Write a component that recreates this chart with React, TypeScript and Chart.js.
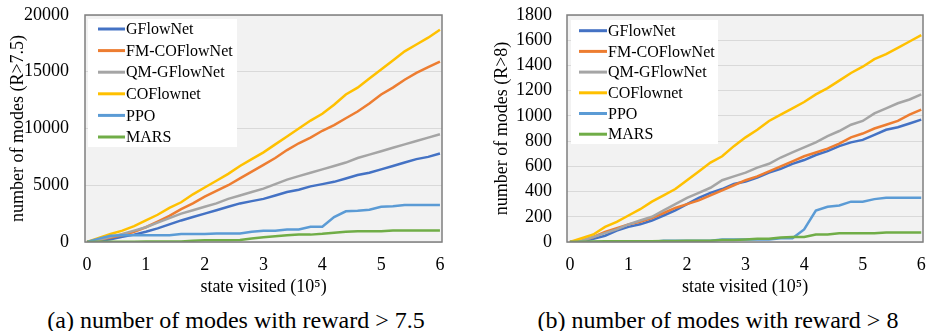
import React, { useEffect, useRef } from 'react';
import { Chart, registerables } from 'chart.js';
Chart.register(...registerables);

const X_VALUES = [0, 0.2, 0.4, 0.6, 0.8, 1.0, 1.2, 1.4, 1.6, 1.8, 2.0, 2.2, 2.4, 2.6, 2.8, 3.0, 3.2, 3.4, 3.6, 3.8, 4.0, 4.2, 4.4, 4.6, 4.8, 5.0, 5.2, 5.4, 5.6, 5.8, 6.0];
const X_TICKS = [0, 1, 2, 3, 4, 5, 6];

const SERIES_NAMES = ['GFlowNet', 'FM-COFlowNet', 'QM-GFlowNet', 'COFlownet', 'PPO', 'MARS'];
const SERIES_COLORS = ['#4472C4', '#ED7D31', '#A5A5A5', '#FFC000', '#5B9BD5', '#70AD47'];

// (a) reward > 7.5
const A_GFLOWNET = [0, 100, 250, 450, 650, 900, 1200, 1550, 1900, 2200, 2500, 2800, 3100, 3400, 3600, 3800, 4100, 4400, 4600, 4900, 5100, 5300, 5600, 5900, 6100, 6400, 6700, 7000, 7300, 7500, 7800];
const A_FM_COFLOWNET = [0, 200, 400, 600, 900, 1300, 1800, 2300, 2900, 3400, 4000, 4500, 5000, 5600, 6200, 6800, 7400, 8100, 8700, 9200, 9800, 10300, 10900, 11500, 12200, 13000, 13600, 14300, 14900, 15400, 15900];
const A_QM_GFLOWNET = [0, 200, 450, 700, 1000, 1300, 1700, 2100, 2500, 2800, 3100, 3400, 3800, 4100, 4400, 4700, 5100, 5500, 5800, 6100, 6400, 6700, 7000, 7400, 7700, 8000, 8300, 8600, 8900, 9200, 9500];
const A_COFLOWNET = [0, 350, 700, 1000, 1400, 1900, 2400, 3000, 3500, 4200, 4800, 5400, 6000, 6700, 7300, 7900, 8600, 9300, 10000, 10700, 11300, 12100, 13000, 13600, 14400, 15200, 16000, 16800, 17400, 18000, 18700];
const A_PPO = [0, 300, 550, 600, 600, 600, 600, 600, 700, 700, 700, 750, 750, 750, 900, 1000, 1000, 1100, 1100, 1350, 1350, 2200, 2700, 2750, 2850, 3100, 3150, 3250, 3250, 3250, 3250];
const A_MARS = [0, 20, 30, 30, 30, 40, 40, 40, 50, 120, 150, 150, 150, 170, 300, 420, 500, 600, 650, 650, 720, 820, 900, 950, 950, 950, 1020, 1020, 1020, 1020, 1020];
const A_Y_TICKS = [0, 5000, 10000, 15000, 20000];

// (b) reward > 8
const B_GFLOWNET = [0, 5, 25, 50, 90, 120, 140, 170, 210, 250, 300, 350, 390, 420, 460, 480, 510, 550, 580, 620, 650, 690, 720, 760, 790, 810, 850, 890, 910, 940, 970];
const B_FM_COFLOWNET = [0, 10, 40, 80, 110, 140, 160, 190, 230, 270, 300, 330, 370, 410, 450, 490, 520, 560, 600, 640, 680, 710, 740, 780, 830, 860, 900, 930, 960, 1010, 1050];
const B_QM_GFLOWNET = [0, 10, 40, 70, 100, 140, 170, 200, 250, 300, 350, 390, 430, 490, 520, 550, 590, 620, 670, 710, 750, 790, 840, 880, 930, 960, 1020, 1060, 1100, 1130, 1170];
const B_COFLOWNET = [0, 30, 60, 120, 160, 210, 260, 320, 370, 420, 490, 560, 630, 680, 760, 830, 890, 960, 1010, 1060, 1110, 1170, 1220, 1280, 1340, 1390, 1450, 1490, 1540, 1590, 1640];
const B_PPO = [0, 0, 0, 0, 0, 0, 0, 0, 10, 10, 10, 10, 10, 20, 20, 20, 20, 20, 30, 30, 100, 250, 280, 290, 320, 320, 340, 350, 350, 350, 350];
const B_MARS = [0, 2, 4, 5, 5, 5, 5, 5, 8, 8, 10, 10, 10, 15, 15, 20, 25, 25, 35, 40, 40, 60, 60, 70, 70, 70, 70, 75, 75, 75, 75];
const B_Y_TICKS = [0, 200, 400, 600, 800, 1000, 1200, 1400, 1600, 1800];

const FONT = '"Liberation Serif", "Times New Roman", serif';

const framePlugin = {
  id: 'frame',
  beforeDraw(chart: any) {
    const { ctx, chartArea } = chart;
    const { left, top, width, height } = chartArea;
    ctx.save();
    ctx.fillStyle = '#F2F2F2';
    ctx.fillRect(left, top, width, height);
    ctx.restore();
  },
  afterDraw(chart: any, _args: any, opts: any) {
    const { ctx, chartArea } = chart;
    const { left, top, width, height } = chartArea;
    ctx.save();
    ctx.strokeStyle = '#7F7F7F';
    ctx.lineWidth = 1.5;
    ctx.strokeRect(left, top, width, height);
    const lg = opts.legend;
    if (lg) {
      ctx.fillStyle = '#FFFFFF';
      ctx.fillRect(left + lg.x, top + lg.y, lg.w, lg.h);
      ctx.font = '16px ' + FONT;
      ctx.textBaseline = 'middle';
      ctx.textAlign = 'left';
      chart.data.datasets.forEach((ds: any, i: number) => {
        const y = top + lg.row0 + i * lg.rowH;
        ctx.strokeStyle = ds.borderColor;
        ctx.lineWidth = 3;
        ctx.beginPath();
        ctx.moveTo(left + lg.l0, y);
        ctx.lineTo(left + lg.l1, y);
        ctx.stroke();
        ctx.fillStyle = '#000000';
        ctx.fillText(ds.label, left + lg.tx, y + 1);
      });
    }
    ctx.restore();
  },
};

type Cfg = {
  series: number[][];
  yMax: number;
  yTicks: number[];
  yTitle: string;
  yWidth: number;
  yTitlePad: number;
  yTickPad: number;
  xMin: number;
  xMax: number;
  padRight: number;
  legend: any;
};

function LineChart({ cfg, width, height }: { cfg: Cfg; width: number; height: number }) {
  const ref = useRef<HTMLCanvasElement | null>(null);
  useEffect(() => {
    if (!ref.current) return;
    const chart = new Chart(ref.current, {
      type: 'line',
      data: {
        datasets: SERIES_NAMES.map((name, i) => ({
          label: name,
          data: X_VALUES.map((x, j) => ({ x, y: cfg.series[i][j] })),
          borderColor: SERIES_COLORS[i],
          backgroundColor: SERIES_COLORS[i],
          borderWidth: 2.5,
          pointRadius: 0,
          tension: 0,
          fill: false,
          order: -i,
        })),
      },
      options: {
        animation: false,
        responsive: false,
        devicePixelRatio: 1,
        layout: { padding: { left: 0, right: cfg.padRight, top: 15, bottom: 0 } },
        plugins: {
          legend: { display: false },
          tooltip: { enabled: false },
          frame: { legend: cfg.legend },
        } as any,
        scales: {
          x: {
            type: 'linear',
            min: cfg.xMin,
            max: cfg.xMax,
            afterBuildTicks: (scale: any) => {
              scale.ticks = X_TICKS.map((v) => ({ value: v }));
            },
            afterFit: (scale: any) => {
              scale.height = 58;
              scale.paddingLeft = 0;
              scale.paddingRight = 0;
            },
            grid: { display: false, drawTicks: false },
            border: { display: false },
            ticks: {
              color: '#000',
              font: { family: FONT, size: 18 },
              padding: 12,
              maxRotation: 0,
              autoSkip: false,
              callback: (v: any) => String(v),
            },
            title: {
              display: true,
              text: 'state visited (10\u2075)',
              color: '#000',
              font: { family: FONT, size: 18 },
              padding: { top: 0, bottom: 2 },
            },
          },
          y: {
            type: 'linear',
            min: 0,
            max: cfg.yMax,
            afterBuildTicks: (scale: any) => {
              scale.ticks = cfg.yTicks.map((v) => ({ value: v }));
            },
            afterFit: (scale: any) => {
              scale.width = cfg.yWidth;
              scale.paddingTop = 0;
              scale.paddingBottom = 0;
            },
            grid: { color: '#D9D9D9', lineWidth: 1, drawTicks: false },
            border: { display: false },
            ticks: {
              color: '#000',
              font: { family: FONT, size: 18 },
              padding: cfg.yTickPad,
              autoSkip: false,
              callback: (v: any) => String(v),
            },
            title: {
              display: true,
              text: cfg.yTitle,
              color: '#000',
              font: { family: FONT, size: 18 },
              padding: { top: cfg.yTitlePad, bottom: 0 },
            },
          },
        },
      },
      plugins: [framePlugin],
    } as any);
    return () => chart.destroy();
  }, []);
  return <canvas ref={ref} width={width} height={height} style={{ width, height, display: 'block' }} />;
}

const CFG_A: Cfg = {
  series: [A_GFLOWNET, A_FM_COFLOWNET, A_QM_GFLOWNET, A_COFLOWNET, A_PPO, A_MARS],
  yMax: 20000,
  yTicks: A_Y_TICKS,
  yTitle: 'number of modes (R>7.5)',
  yWidth: 85,
  yTitlePad: 7,
  yTickPad: 16,
  xMin: -0.035,
  xMax: 6.035,
  padRight: 23,
  legend: { x: 3, y: 4, w: 149, h: 128, row0: 14, rowH: 21.6, l0: 13, l1: 40, tx: 41 },
};

const CFG_B: Cfg = {
  series: [B_GFLOWNET, B_FM_COFLOWNET, B_QM_GFLOWNET, B_COFLOWNET, B_PPO, B_MARS],
  yMax: 1800,
  yTicks: B_Y_TICKS,
  yTitle: 'number of modes (R>8)',
  yWidth: 102,
  yTitlePad: 26,
  yTickPad: 15,
  xMin: -0.05,
  xMax: 6.03,
  padRight: 6,
  legend: { x: 4, y: 5, w: 147, h: 124, row0: 15.7, rowH: 20.7, l0: 12, l1: 40, tx: 41 },
};

export default function App() {
  return (
    <div style={{ position: 'fixed', left: 0, top: 0, width: 929, height: 331, background: '#fff', overflow: 'hidden' }}>
      <div style={{ position: 'absolute', left: 0, top: 0 }}>
        <LineChart cfg={CFG_A} width={465} height={300} />
      </div>
      <div style={{ position: 'absolute', left: 465, top: 0 }}>
        <LineChart cfg={CFG_B} width={464} height={300} />
      </div>
      <div style={{ position: 'absolute', left: 36, top: 307, width: 400, textAlign: 'center', fontFamily: FONT, fontSize: 24, lineHeight: '26px', color: '#000', whiteSpace: 'nowrap' }}>
        (a) number of modes with reward &gt; 7.5
      </div>
      <div style={{ position: 'absolute', left: 518, top: 307, width: 400, textAlign: 'center', fontFamily: FONT, fontSize: 24, lineHeight: '26px', color: '#000', whiteSpace: 'nowrap' }}>
        (b) number of modes with reward &gt; 8
      </div>
    </div>
  );
}
